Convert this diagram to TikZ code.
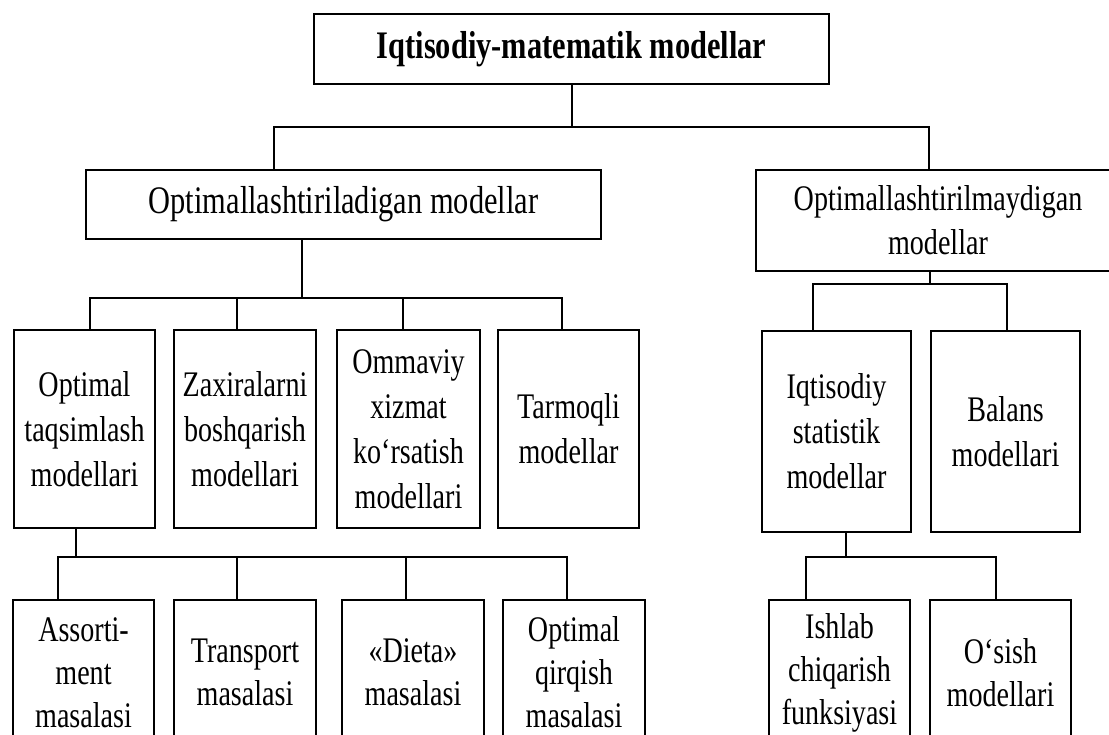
\documentclass[tikz,border=0pt]{standalone}
\usepackage{fontspec}
\setmainfont{Liberation Serif}[FakeStretch=0.78]
\begin{document}
\begin{tikzpicture}[x=1pt,y=-1pt,
  box/.style={draw, line width=1.7pt, align=center, inner sep=0pt, font=\fontsize{36}{45}\selectfont},
  bbox/.style={box, font=\fontsize{36}{43}\selectfont},
  conn/.style={line width=1.7pt}]
\useasboundingbox (0,0) rectangle (1109,734);
\clip (0,0) rectangle (1109,734);
% level 0
\node[box, minimum width=515pt, minimum height=70pt, font=\bfseries\fontsize{39}{46}\selectfont] (top) at (571.5,49) {Iqtisodiy-matematik modellar};
% level 1
\node[box, minimum width=515pt, minimum height=69pt, font=\fontsize{39}{46}\selectfont] (opt) at (343.5,204.5) {Optimallashtiriladigan modellar};
\node[box, minimum width=364pt, minimum height=101pt, font=\fontsize{36}{44}\selectfont] (nonopt) at (938,220.5) {Optimallashtirilmaydigan\\modellar};
% level 2
\node[box, minimum width=141pt, minimum height=198pt] (b1) at (84.5,429) {Optimal\\taqsimlash\\modellari};
\node[box, minimum width=142pt, minimum height=198pt] (b2) at (245,429) {Zaxiralarni\\boshqarish\\modellari};
\node[box, minimum width=143pt, minimum height=198pt] (b3) at (408.5,429) {Ommaviy\\xizmat\\ko‘rsatish\\modellari};
\node[box, minimum width=141pt, minimum height=198pt] (b4) at (568.5,429) {Tarmoqli\\modellar};
\node[box, minimum width=149pt, minimum height=201pt] (iq) at (836.5,431.5) {Iqtisodiy\\statistik\\modellar};
\node[box, minimum width=149pt, minimum height=201pt] (bal) at (1005.5,431.5) {Balans\\modellari};
% level 3
\node[bbox, minimum width=141pt, minimum height=145pt] (c1) at (83.5,672.5) {Assorti-\\ment\\masalasi};
\node[bbox, minimum width=142pt, minimum height=145pt] (c2) at (245,672.5) {Transport\\masalasi};
\node[bbox, minimum width=142pt, minimum height=145pt] (c3) at (413,672.5) {«Dieta»\\masalasi};
\node[bbox, minimum width=142pt, minimum height=145pt] (c4) at (574,672.5) {Optimal\\qirqish\\masalasi};
\node[bbox, minimum width=141pt, minimum height=145pt] (ish) at (839.5,672.5) {Ishlab\\chiqarish\\funksiyasi};
\node[bbox, minimum width=141pt, minimum height=145pt] (osi) at (1000.5,672.5) {O‘sish\\modellari};
% connectors: top
\coordinate (j0) at (572,127);
\coordinate (d0a) at ([xshift=-69.5pt]opt.north);
\coordinate (d0b) at ([xshift=-9pt]nonopt.north);
\draw[conn] (top.south -| j0) -- (j0);
\draw[conn] (d0a) |- (j0) -| (d0b);
% connectors: optimised
\coordinate (j1) at (302,298);
\coordinate (d1a) at ([xshift=5.5pt]b1.north);
\coordinate (d1b) at ([xshift=-8pt]b2.north);
\coordinate (d1c) at ([xshift=-5.5pt]b3.north);
\coordinate (d1d) at ([xshift=-6.5pt]b4.north);
\draw[conn] (opt.south -| j1) -- (j1);
\draw[conn] (d1a) |- (j1) -| (d1d);
\draw[conn] (d1b) -- (d1b |- j1);
\draw[conn] (d1c) -- (d1c |- j1);
% connectors: non-optimised
\coordinate (j2) at (930,284);
\coordinate (d2a) at ([xshift=-23.5pt]iq.north);
\coordinate (d2b) at ([xshift=1.5pt]bal.north);
\draw[conn] (nonopt.south -| j2) -- (j2);
\draw[conn] (d2a) |- (j2) -| (d2b);
% connectors: optimal taqsimlash
\coordinate (j3) at (76,557);
\coordinate (d3a) at ([xshift=-25.5pt]c1.north);
\coordinate (d3b) at ([xshift=-8pt]c2.north);
\coordinate (d3c) at ([xshift=-7pt]c3.north);
\coordinate (d3d) at ([xshift=-7pt]c4.north);
\draw[conn] (b1.south -| j3) -- (j3);
\draw[conn] (d3a) |- (j3) -| (d3d);
\draw[conn] (d3b) -- (d3b |- j3);
\draw[conn] (d3c) -- (d3c |- j3);
% connectors: iqtisodiy statistik
\coordinate (j4) at (846,557);
\coordinate (d4a) at ([xshift=-33.5pt]ish.north);
\coordinate (d4b) at ([xshift=-4.5pt]osi.north);
\draw[conn] (iq.south -| j4) -- (j4);
\draw[conn] (d4a) |- (j4) -| (d4b);
\end{tikzpicture}
\end{document}
